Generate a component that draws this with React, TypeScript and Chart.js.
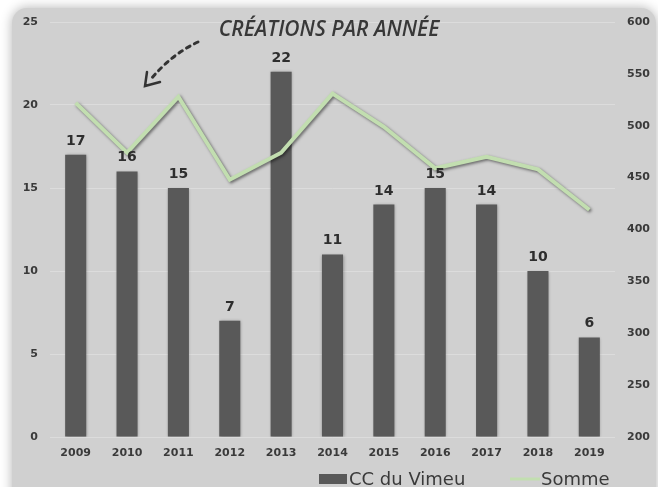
import React, { useEffect, useRef } from "react";
import { Chart, registerables } from "chart.js";

Chart.register(...registerables);

const categories = ["2009", "2010", "2011", "2012", "2013", "2014", "2015", "2016", "2017", "2018", "2019"];
const creations = [17, 16, 15, 7, 22, 11, 14, 15, 14, 10, 6];
const somme = [522, 474, 528, 448, 474, 531, 499, 459, 470, 458, 419];
const leftTicks = [0, 5, 10, 15, 20, 25];
const rightTicks = [200, 250, 300, 350, 400, 450, 500, 550, 600];
const seriesNames = ["CC du Vimeu", "Somme"];
const titleText = "CRÉATIONS PAR ANNÉE";

const BAR_COLOR = "#595959";
const LINE_COLOR = "#c2deb0";
const TEXT_COLOR = "#3a3a3a";
const BG_COLOR = "#d0d0d0";
const GRID_COLOR = "#dcdcdc";
const TICK_FONT = "'DejaVu Sans', sans-serif";

const backgroundPlugin = {
  id: "bgPanel",
  beforeDraw(chart: any) {
    const { ctx, width, height } = chart;
    ctx.save();
    ctx.fillStyle = "#ffffff";
    ctx.fillRect(0, 0, width, height);
    ctx.shadowColor = "rgba(0,0,0,0.3)";
    ctx.shadowBlur = 12;
    ctx.shadowOffsetX = 0;
    ctx.shadowOffsetY = 0;
    ctx.beginPath();
    (ctx as any).roundRect(12, 8, width - 14, height + 30, 15);
    ctx.fillStyle = BG_COLOR;
    ctx.fill();
    ctx.restore();
  },
};

const shadowPlugin = {
  id: "markShadow",
  beforeDatasetDraw(chart: any, args: any) {
    const ctx = chart.ctx;
    ctx.save();
    if (args.meta.type === "line") {
      ctx.shadowColor = "rgba(0,0,0,0.5)";
      ctx.shadowBlur = 3;
      ctx.shadowOffsetX = 1.5;
      ctx.shadowOffsetY = 1.5;
    } else {
      ctx.shadowColor = "rgba(0,0,0,0.3)";
      ctx.shadowBlur = 3;
      ctx.shadowOffsetX = 0.5;
      ctx.shadowOffsetY = 0.5;
    }
  },
  afterDatasetDraw(chart: any) {
    chart.ctx.restore();
  },
};

const overlayPlugin = {
  id: "overlay",
  afterDatasetsDraw(chart: any) {
    const ctx = chart.ctx;
    const meta = chart.getDatasetMeta(0);
    const data = chart.data.datasets[0].data;
    ctx.save();
    ctx.font = `bold 14px ${TICK_FONT}`;
    ctx.fillStyle = "#2e2e2e";
    ctx.textAlign = "center";
    ctx.textBaseline = "alphabetic";
    meta.data.forEach((el: any, i: number) => {
      ctx.fillText(String(data[i]), el.x, el.y - 10);
    });
    ctx.restore();
  },
  afterDraw(chart: any) {
    const ctx = chart.ctx;
    const w = chart.width;
    ctx.save();
    ctx.font = "italic 600 21px 'Open Sans', sans-serif";
    ctx.fillStyle = "#383838";
    ctx.textAlign = "center";
    ctx.textBaseline = "middle";
    const measured = ctx.measureText(titleText).width;
    const sx = Math.min(1, 244 / measured);
    ctx.translate(w / 2, 30);
    ctx.scale(sx, 1);
    ctx.fillText(titleText, 0, 0);
    ctx.restore();

    ctx.save();
    ctx.strokeStyle = "#333333";
    ctx.lineWidth = 3;
    ctx.lineCap = "round";
    ctx.setLineDash([4, 5]);
    ctx.beginPath();
    ctx.moveTo(198, 42);
    ctx.quadraticCurveTo(172, 54, 151, 79);
    ctx.stroke();
    ctx.setLineDash([]);
    ctx.lineWidth = 2.5;
    ctx.beginPath();
    ctx.moveTo(147, 72);
    ctx.lineTo(145, 86);
    ctx.lineTo(160, 82);
    ctx.stroke();
    ctx.restore();

    ctx.save();
    ctx.font = `500 18px ${TICK_FONT}`;
    ctx.textAlign = "left";
    ctx.textBaseline = "alphabetic";
    const ly = 479;
    ctx.fillStyle = BAR_COLOR;
    ctx.fillRect(319, ly - 5, 28, 10);
    ctx.fillStyle = TEXT_COLOR;
    ctx.fillText(seriesNames[0], 349, ly + 6);
    ctx.strokeStyle = LINE_COLOR;
    ctx.lineWidth = 3;
    ctx.beginPath();
    ctx.moveTo(510, ly);
    ctx.lineTo(540, ly);
    ctx.stroke();
    ctx.fillText(seriesNames[1], 541, ly + 6);
    ctx.restore();
  },
};

export default function App() {
  const ref = useRef<HTMLCanvasElement | null>(null);

  useEffect(() => {
    document.body.style.margin = "0";
    const canvas = ref.current;
    if (!canvas) return;
    const chart = new Chart(canvas, {
      type: "bar",
      data: {
        labels: categories,
        datasets: [
          {
            type: "bar",
            label: seriesNames[0],
            data: creations,
            backgroundColor: BAR_COLOR,
            barPercentage: 0.41,
            categoryPercentage: 1,
            yAxisID: "y",
            order: 1,
          },
          {
            type: "line",
            label: seriesNames[1],
            data: somme,
            borderColor: LINE_COLOR,
            borderWidth: 4,
            pointRadius: 0,
            tension: 0,
            fill: false,
            yAxisID: "y1",
            order: 0,
          } as any,
        ],
      },
      options: {
        responsive: false,
        animation: false,
        devicePixelRatio: 1,
        layout: { padding: { top: 22, bottom: 24, left: 0, right: 0 } },
        plugins: {
          legend: { display: false },
          title: { display: false },
          tooltip: { enabled: false },
        },
        scales: {
          x: {
            grid: { display: false },
            border: { display: false },
            ticks: {
              color: TEXT_COLOR,
              font: { family: TICK_FONT, size: 11, weight: "bold" },
              padding: 2,
              maxRotation: 0,
              autoSkip: false,
            },
            afterFit(scale: any) {
              scale.height = 26;
            },
          },
          y: {
            position: "left",
            min: leftTicks[0],
            max: leftTicks[leftTicks.length - 1],
            afterBuildTicks(scale: any) {
              scale.ticks = leftTicks.map((v) => ({ value: v }));
            },
            grid: { color: GRID_COLOR, lineWidth: 1, drawTicks: false },
            border: { display: false },
            ticks: {
              color: TEXT_COLOR,
              font: { family: TICK_FONT, size: 11, weight: "bold" },
              padding: 12,
            },
            afterFit(scale: any) {
              scale.width = 50;
            },
          },
          y1: {
            position: "right",
            min: rightTicks[0],
            max: rightTicks[rightTicks.length - 1],
            afterBuildTicks(scale: any) {
              scale.ticks = rightTicks.map((v) => ({ value: v }));
            },
            grid: { display: false, drawTicks: false },
            border: { display: false },
            ticks: {
              color: TEXT_COLOR,
              font: { family: TICK_FONT, size: 11, weight: "bold" },
              padding: 12,
            },
            afterFit(scale: any) {
              scale.width = 43;
            },
          },
        },
      } as any,
      plugins: [backgroundPlugin, shadowPlugin, overlayPlugin],
    });
    return () => chart.destroy();
  }, []);

  return (
    <div style={{ width: 658, height: 487 }}>
      <canvas ref={ref} width={658} height={487} style={{ display: "block" }} />
    </div>
  );
}
